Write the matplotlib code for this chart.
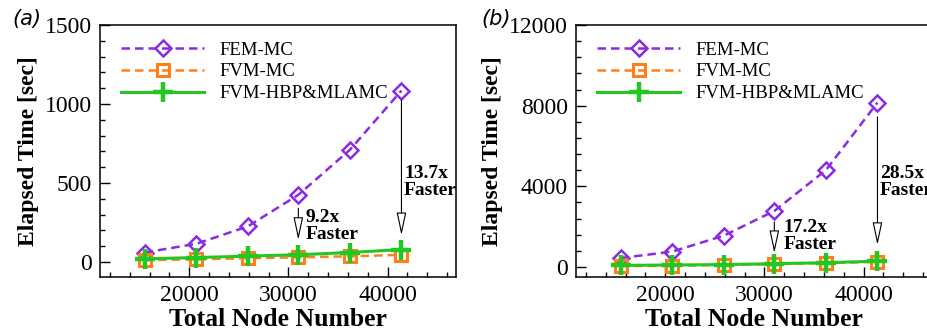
import numpy as np
import matplotlib
matplotlib.use("Agg")
import matplotlib.pyplot as plt
from matplotlib.ticker import MultipleLocator

# node counts (x) shared by both panels
nodes = [15500, 20700, 25900, 31000, 36200, 41400]

# panel (a) elapsed times [sec]
fem_a = [60, 115, 225, 425, 710, 1085]
fvm_a = [12, 17, 24, 30, 36, 45]
hbp_a = [20, 28, 37, 46, 60, 79]

# panel (b) elapsed times [sec]
fem_b = [440, 760, 1550, 2775, 4800, 8150]
fvm_b = [40, 55, 95, 140, 195, 250]
hbp_b = [75, 95, 115, 161, 210, 286]

labels = ["FEM-MC", "FVM-MC", "FVM-HBP&MLAMC"]
speedups_a = ["9.2x\nFaster", "13.7x\nFaster"]
speedups_b = ["17.2x\nFaster", "28.5x\nFaster"]

purple = "#8A2BE2"
orange = "#FF7F1A"
green = "#22C722"

plt.rcParams["font.family"] = "Liberation Serif"

fig = plt.figure(figsize=(9.28, 3.35), dpi=100)
ax_a = fig.add_axes([100/928, 58/335, 356/928, 252/335])
ax_b = fig.add_axes([576/928, 58/335, 356/928, 252/335])


def draw_panel(ax, fem, fvm, hbp, ylim, ymaj, ymin, arrows, texts):
    ax.plot(nodes, fem, color=purple, lw=1.8, ls=(0, (3.4, 2.0)),
            marker="D", ms=8.5, mfc="none", mew=1.8, label=labels[0])
    ax.plot(nodes, fvm, color=orange, lw=1.8, ls=(0, (3.4, 2.0)),
            marker="s", ms=8, mfc="none", mew=2.2, label=labels[1])
    ax.plot(nodes, hbp, color=green, lw=2.2, ls="-",
            marker="+", ms=14, mew=3.2, label=labels[2])

    ax.set_xlim(11000, 46900)
    ax.set_ylim(*ylim)
    ax.xaxis.set_major_locator(MultipleLocator(10000))
    ax.xaxis.set_minor_locator(MultipleLocator(2000))
    ax.yaxis.set_major_locator(MultipleLocator(ymaj))
    ax.yaxis.set_minor_locator(MultipleLocator(ymin))
    ax.tick_params(which="both", direction="in", top=False, right=False,
                   labelsize=17, pad=6, width=1)
    ax.tick_params(which="major", length=7)
    ax.tick_params(which="minor", length=3.5)
    for s in ax.spines.values():
        s.set_linewidth(1.1)

    ax.set_xlabel("Total Node Number", fontsize=18.5, fontweight="bold", labelpad=1)
    ax.set_ylabel("Elapsed Time [sec]", fontsize=17, fontweight="bold", labelpad=4)

    # speed-up arrows and notes
    for (x, y0, y1), (tx, ty), t in zip(arrows, texts[0], texts[1]):
        ax.annotate("", xy=(x, y1), xytext=(x, y0),
                    arrowprops=dict(arrowstyle="-|>,head_length=1.4,head_width=0.3",
                                    fc="white", ec="black", lw=0.8,
                                    shrinkA=0, shrinkB=0))
        ax.text(tx, ty, t, fontsize=14, fontweight="bold", ha="left",
                va="center", linespacing=1.0)

    ax.legend(loc="upper left", bbox_to_anchor=(0.06, 0.935), frameon=False,
              fontsize=13.5, handlelength=4.4, handletextpad=0.85,
              labelspacing=0.25, borderaxespad=0, borderpad=0)


draw_panel(ax_a, fem_a, fvm_a, hbp_a, (-95, 1500), 500, 100,
           [(nodes[3], 340, 140), (nodes[5], 1025, 170)],
           ([(31750, 225), (41650, 505)], speedups_a))
draw_panel(ax_b, fem_b, fvm_b, hbp_b, (-500, 12000), 4000, 800,
           [(nodes[3], 2230, 690), (nodes[5], 7440, 1090)],
           ([(31950, 1520), (41650, 4220)], speedups_b))

fig.text(12/928, 1 - 19/335, "(a)", family="DejaVu Sans", style="italic",
         fontsize=15, va="center", ha="left")
fig.text(481/928, 1 - 19/335, "(b)", family="DejaVu Sans", style="italic",
         fontsize=15, va="center", ha="left")

fig.savefig("out.png", dpi=100)
